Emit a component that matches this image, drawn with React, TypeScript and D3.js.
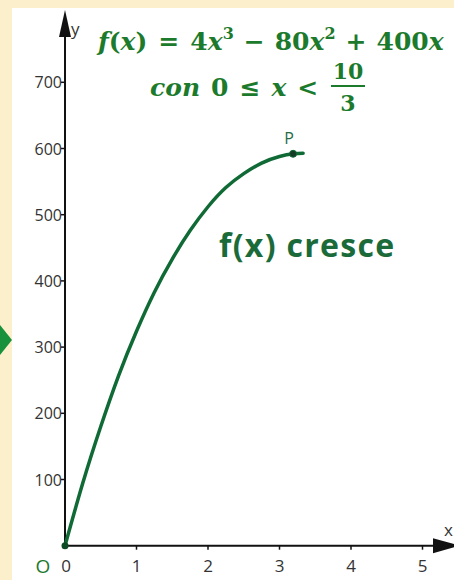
import React from "react";
import * as d3 from "d3";

// Sampled points of f(x) on its increasing branch
const curveX = [0, 0.25, 0.5, 0.75, 1, 1.25, 1.5, 1.75, 2, 2.25, 2.5, 2.75, 3, 3.2, 3.33];
const curveY = [0, 95, 180, 257, 324, 383, 433, 476, 512, 541, 562, 578, 588, 592, 593];

const pointP = { x: 3.19, y: 592, label: "P" };

const xTicks = [1, 2, 3, 4, 5];
const yTicks = [100, 200, 300, 400, 500, 600, 700];

const W = 454;
const H = 580;

const GREEN_TEXT = "#1c7a2c";
const GREEN_CURVE = "#0f6a35";
const AXIS = "#111";
const LABEL = "#333";

export default function App() {
  const x = d3.scaleLinear().domain([0, 5]).range([65, 422.5]);
  const y = d3.scaleLinear().domain([0, 700]).range([545.7, 82.3]);

  const pts: [number, number][] = curveX.map((v, i) => [v, curveY[i]]);
  const line = d3
    .line<[number, number]>()
    .x((d) => x(d[0]))
    .y((d) => y(d[1]))
    .curve(d3.curveNatural);

  const x0 = x(0);
  const y0 = y(0);
  const sans = "'Open Sans', 'DejaVu Sans', sans-serif";
  const serif = "'DejaVu Serif', serif";
  const op = 11;

  return (
    <svg
      width={W}
      height={H}
      style={{ position: "absolute", left: 0, top: 0, display: "block" }}
    >
      <rect x={0} y={0} width={W} height={H} fill="#fcefcb" />
      <rect x={12} y={8} width={W - 12} height={H - 8} fill="#ffffff" />

      {/* side marker */}
      <polygon points="0,325 12,340 0,355" fill="#17913c" />

      {/* y axis */}
      <line x1={x0} y1={y0} x2={x0} y2={30} stroke={AXIS} strokeWidth={2} />
      <polygon points={`${x0},10 ${x0 - 6},37 ${x0 + 6},37`} fill={AXIS} />
      <text x={71} y={35} fontFamily={sans} fontSize={17} fill={LABEL}>
        y
      </text>

      {/* x axis */}
      <line x1={x0} y1={y0} x2={440} y2={y0} stroke={AXIS} strokeWidth={2} />
      <polygon points={`433,${y0 - 7.5} 460,${y0} 433,${y0 + 7.5}`} fill={AXIS} />
      <text x={444} y={536} fontFamily={sans} fontSize={17} fill={LABEL}>
        x
      </text>

      {yTicks.map((t) => (
        <g key={`y${t}`}>
          <line x1={x0 - 4} x2={x0} y1={y(t)} y2={y(t)} stroke={AXIS} strokeWidth={1.5} />
          <text
            x={x0 - 3}
            y={y(t) + 6}
            textAnchor="end"
            fontFamily={sans}
            fontSize={16}
            fill={LABEL}
          >
            {t}
          </text>
        </g>
      ))}

      {xTicks.map((t) => (
        <g key={`x${t}`}>
          <line x1={x(t)} x2={x(t)} y1={y0} y2={y0 + 4} stroke={AXIS} strokeWidth={1.5} />
          <text
            x={x(t)}
            y={572}
            textAnchor="middle"
            fontFamily={sans}
            fontSize={17}
            fill={LABEL}
          >
            {t}
          </text>
        </g>
      ))}
      <text x={x0 + 1} y={572} textAnchor="middle" fontFamily={sans} fontSize={17} fill={LABEL}>
        0
      </text>
      <text x={43} y={573} textAnchor="middle" fontFamily={sans} fontSize={19} fill={GREEN_TEXT}>
        O
      </text>

      {/* curve */}
      <path d={line(pts) ?? ""} fill="none" stroke={GREEN_CURVE} strokeWidth={3.5} strokeLinecap="round" />
      <circle cx={x0} cy={y0} r={3.5} fill="#0b4a22" />
      <circle cx={x(pointP.x)} cy={y(pointP.y)} r={3.5} fill="#173a26" stroke={GREEN_CURVE} strokeWidth={1} />
      <text
        x={x(pointP.x) - 4}
        y={y(pointP.y) - 10}
        textAnchor="middle"
        fontFamily={sans}
        fontSize={16}
        fill="#2a6b45"
      >
        {pointP.label}
      </text>

      {/* formula */}
      <text x={98} y={50} fontFamily={serif} fontSize={25} fontWeight="bold" fill={GREEN_TEXT}>
        <tspan fontStyle="italic">f</tspan>
        <tspan>(</tspan>
        <tspan fontStyle="italic">x</tspan>
        <tspan>)</tspan>
        <tspan dx={op}>=</tspan>
        <tspan dx={op}>4</tspan>
        <tspan fontStyle="italic">x</tspan>
        <tspan fontSize={16} dy={-11}>3</tspan>
        <tspan dy={11} dx={op - 1}>−</tspan>
        <tspan dx={op - 1}>80</tspan>
        <tspan fontStyle="italic">x</tspan>
        <tspan fontSize={16} dy={-11}>2</tspan>
        <tspan dy={11} dx={op - 1}>+</tspan>
        <tspan dx={op - 1}>400</tspan>
        <tspan fontStyle="italic">x</tspan>
      </text>

      <text x={150} y={96} fontFamily={serif} fontSize={25} fontWeight="bold" fill={GREEN_TEXT}>
        <tspan fontStyle="italic">con</tspan>
        <tspan dx={11}>0</tspan>
        <tspan dx={11}>≤</tspan>
        <tspan dx={11} fontStyle="italic">x</tspan>
        <tspan dx={11}>&lt;</tspan>
      </text>
      <text x={348} y={79} textAnchor="middle" fontFamily={serif} fontSize={22} fontWeight="bold" fill={GREEN_TEXT}>
        10
      </text>
      <line x1={331} x2={365} y1={86} y2={86} stroke={GREEN_TEXT} strokeWidth={2} />
      <text x={348} y={111} textAnchor="middle" fontFamily={serif} fontSize={22} fontWeight="bold" fill={GREEN_TEXT}>
        3
      </text>

      <text
        x={219}
        y={257}
        fontFamily={sans}
        fontSize={32}
        fontWeight="bold"
        letterSpacing={1.3}
        fill="#1b6b3a"
      >
        f(x) cresce
      </text>
    </svg>
  );
}
